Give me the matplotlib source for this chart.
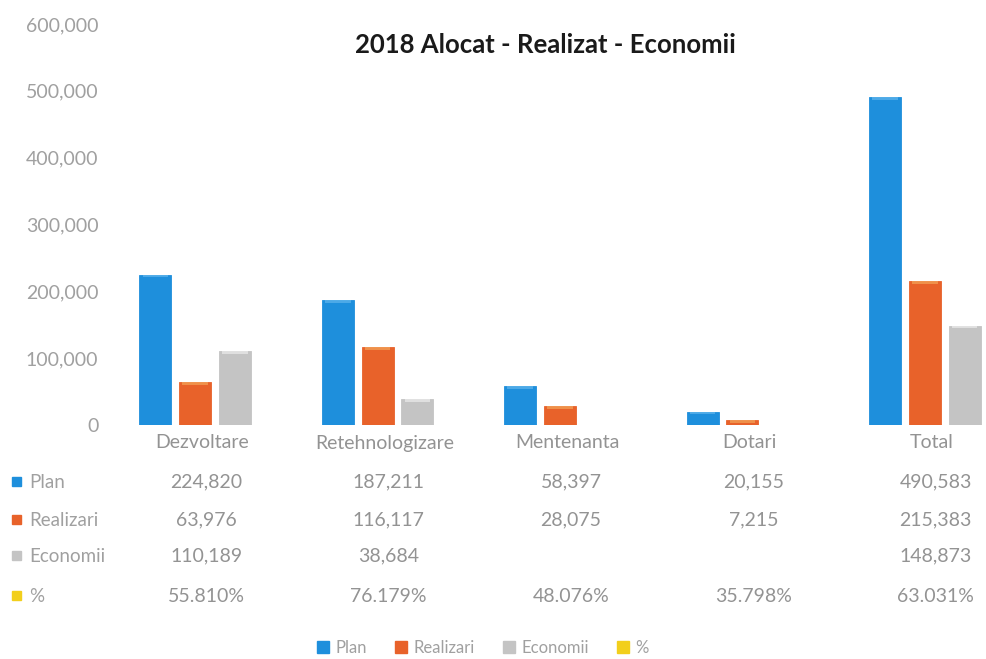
import numpy as np
import matplotlib.pyplot as plt
from matplotlib.transforms import blended_transform_factory
from matplotlib.patches import Patch

categories = ["Dezvoltare", "Retehnologizare", "Mentenanta", "Dotari", "Total"]
plan = [224820, 187211, 58397, 20155, 490583]
realizari = [63976, 116117, 28075, 7215, 215383]
economii = [110189, 38684, None, None, 148873]
procent = ["55.810%", "76.179%", "48.076%", "35.798%", "63.031%"]

series_names = ["Plan", "Realizari", "Economii", "%"]
colors = ["#1e8fdc", "#e8622a", "#c4c4c4", "#f2cf1c"]
yticks = [0, 100000, 200000, 300000, 400000, 500000, 600000]

W, H = 987, 659
fig = plt.figure(figsize=(W / 100, H / 100), dpi=100)
plt.rcParams['font.family'] = ['Lato', 'DejaVu Sans']

# axes extends past right edge (the source image was cropped)
ax_left, ax_right = 104 / W, 1016 / W
ax_bot, ax_top = 1 - 425 / H, 1 - 24 / H
ax = fig.add_axes([ax_left, ax_bot, ax_right - ax_left, ax_top - ax_bot])
ax.set_xlim(-0.5, 4.5)
ax.set_ylim(0, 600000)

x = np.arange(len(categories))
width = 0.175
gap = 0.218
vals = [plan, realizari, [v if v is not None else 0 for v in economii]]
tops = ["#6bbcef", "#f5b060", "#f2f2f2"]
for i, (v, c, t) in enumerate(zip(vals, colors, tops)):
    xs = x + (i - 1) * gap
    ax.bar(xs, v, width, color=c, edgecolor=c, linewidth=0.6, zorder=2)
    # light cap on top of each bar
    v = np.array(v, dtype=float)
    cap = np.minimum(v, 4000)
    ax.bar(xs, cap, width * 0.8, bottom=v - cap, color=t, linewidth=0,
           zorder=3, alpha=0.6)

for s in ax.spines.values():
    s.set_visible(False)
ax.set_xticks([])
ax.set_yticks(yticks)
ax.set_yticklabels([f"{t:,}" for t in yticks], color="#a0a0a0", fontsize=14)
ax.tick_params(axis="y", length=0, pad=4)

tr = blended_transform_factory(ax.transData, fig.transFigure)
txt_col = "#939393"
fs = 14
for xi, cat in zip(x, categories):
    ax.text(xi + 0.04, 1 - 443 / H, cat, transform=tr, ha="center", va="center",
            color=txt_col, fontsize=fs)

rows = [
    [f"{v:,}" for v in plan],
    [f"{v:,}" for v in realizari],
    [f"{v:,}" if v is not None else "" for v in economii],
    procent,
]
row_y = [482, 520, 556, 596]
for name, col, vals_txt, py in zip(series_names, colors, rows, row_y):
    yf = 1 - py / H
    fig.patches.append(plt.Rectangle((12 / W, yf - 4 / H), 9 / W, 9 / H,
                                     transform=fig.transFigure, color=col,
                                     figure=fig))
    fig.text(29 / W, yf, name, ha="left", va="center", color="#a0a0a0",
             fontsize=fs - 0.5)
    for xi, t in zip(x, vals_txt):
        ax.text(xi + 0.06, yf, t, transform=tr, ha="center", va="center",
                color=txt_col, fontsize=fs)

handles = [Patch(facecolor=c, edgecolor=c) for c in colors]
fig.legend(handles, series_names, loc="center", ncol=4,
           bbox_to_anchor=(483 / W, 1 - 648 / H), frameon=False,
           fontsize=12, labelcolor="#a0a0a0",
           handlelength=0.7, handleheight=0.7, handletextpad=0.4,
           columnspacing=1.7)

fig.text(545 / W, 1 - 45 / H, "2018 Alocat - Realizat - Economii",
         ha="center", va="center", fontsize=18.5, fontweight="bold",
         color="#1a1a1a")

fig.savefig("out.png", dpi=100)
